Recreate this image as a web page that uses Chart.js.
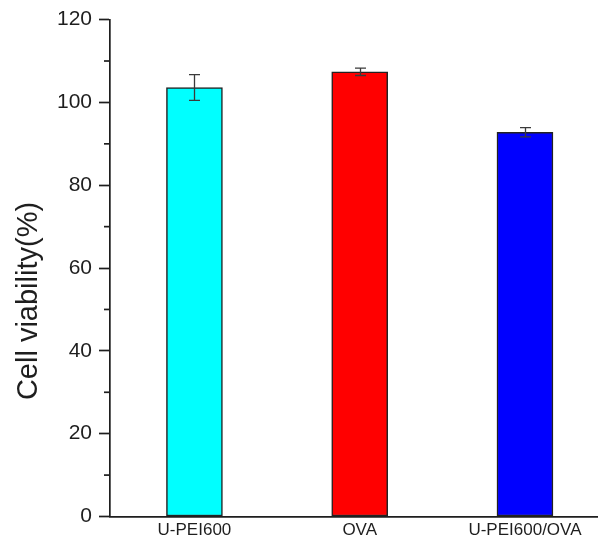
<!DOCTYPE html>
<html>
<head>
<meta charset="utf-8">
<script src="https://cdn.jsdelivr.net/npm/chart.js@4.4.1/dist/chart.umd.min.js"></script>
<style>
  html, body { margin: 0; padding: 0; background: #ffffff; overflow: hidden; }
  #wrap { width: 598px; height: 545px; position: relative; }
</style>
</head>
<body>
<div id="wrap"><canvas id="chart"></canvas></div>
<script>
// Cell viability per formulation (mean and standard deviation, %)
const categories = ['U-PEI600', 'OVA', 'U-PEI600/OVA'];
const viability = [103.6, 107.4, 92.8];
const viabilitySD = [3.1, 0.9, 1.1];
const barColors = ['#00ffff', '#ff0000', '#0000ff'];
const yTicks = [0, 20, 40, 60, 80, 100, 120];
const yMinorTicks = [10, 30, 50, 70, 90, 110];
const yTitle = 'Cell viability(%)';

const FONT = "'Liberation Sans', Arial, Helvetica, sans-serif";
const INK = '#1e1e1e';

// Whiskers for mean ± SD, placed with the value scale
const errorBars = {
  id: 'errorBars',
  afterDatasetsDraw(chart) {
    const meta = chart.getDatasetMeta(0);
    const ys = chart.scales.y;
    const ctx = chart.ctx;
    ctx.save();
    ctx.strokeStyle = '#3a3a3a';
    ctx.lineWidth = 1.3;
    meta.data.forEach((bar, i) => {
      const x = Math.round(bar.x) + 0.5;
      const top = ys.getPixelForValue(viability[i] + viabilitySD[i]);
      const bot = ys.getPixelForValue(viability[i] - viabilitySD[i]);
      const half = 5.5;
      ctx.beginPath();
      ctx.moveTo(x, top); ctx.lineTo(x, bot);
      ctx.moveTo(x - half, top); ctx.lineTo(x + half, top);
      ctx.moveTo(x - half, bot); ctx.lineTo(x + half, bot);
      ctx.stroke();
    });
    ctx.restore();
  }
};

// Short minor ticks between the labelled ones, and the rotated axis title
const axisExtras = {
  id: 'axisExtras',
  afterDraw(chart) {
    const ys = chart.scales.y;
    const ctx = chart.ctx;
    const x0 = chart.chartArea.left;
    ctx.save();
    ctx.strokeStyle = INK;
    ctx.lineWidth = 1.7;
    yMinorTicks.forEach(v => {
      const y = ys.getPixelForValue(v);
      ctx.beginPath();
      ctx.moveTo(x0 - 6, y);
      ctx.lineTo(x0, y);
      ctx.stroke();
    });
    ctx.translate(29, 301);
    ctx.rotate(-Math.PI / 2);
    ctx.fillStyle = INK;
    ctx.font = '29px ' + FONT;
    ctx.textAlign = 'center';
    ctx.textBaseline = 'middle';
    ctx.fillText(yTitle, 0, 0);
    ctx.restore();
  }
};

new Chart(document.getElementById('chart'), {
  type: 'bar',
  data: {
    datasets: [{
      data: viability.map((v, i) => ({ x: i + 1, y: v })),
      backgroundColor: barColors,
      borderColor: '#222222',
      borderWidth: 1.5,
      borderSkipped: false,
      barThickness: 56
    }]
  },
  options: {
    responsive: true,
    maintainAspectRatio: false,
    animation: false,
    layout: { padding: { top: 17.5, right: 0, bottom: 0, left: 0 } },
    plugins: { legend: { display: false }, tooltip: { enabled: false } },
    scales: {
      x: {
        type: 'linear',
        offset: false,
        min: 0.489,
        max: 3.442,
        afterBuildTicks(scale) {
          scale.ticks = categories.map((_, i) => ({ value: i + 1 }));
        },
        afterFit(scale) { scale.height = 28.5; },
        grid: { display: false, drawTicks: false },
        border: { display: true, color: INK, width: 1.7 },
        ticks: {
          padding: 4,
          color: INK,
          font: { family: FONT, size: 17 },
          maxRotation: 0,
          autoSkip: false,
          callback: v => categories[Math.round(v) - 1] || ''
        }
      },
      y: {
        min: 0,
        max: 120,
        afterBuildTicks(scale) {
          scale.ticks = yTicks.map(v => ({ value: v }));
        },
        afterFit(scale) { scale.width = 110; },
        grid: {
          drawOnChartArea: false,
          drawTicks: true,
          tickLength: 11,
          tickColor: INK,
          tickWidth: 1.7
        },
        border: { display: true, color: INK, width: 1.7 },
        ticks: {
          padding: 7,
          color: INK,
          font: { family: FONT, size: 21 }
        }
      }
    }
  },
  plugins: [errorBars, axisExtras]
});
</script>
</body>
</html>
